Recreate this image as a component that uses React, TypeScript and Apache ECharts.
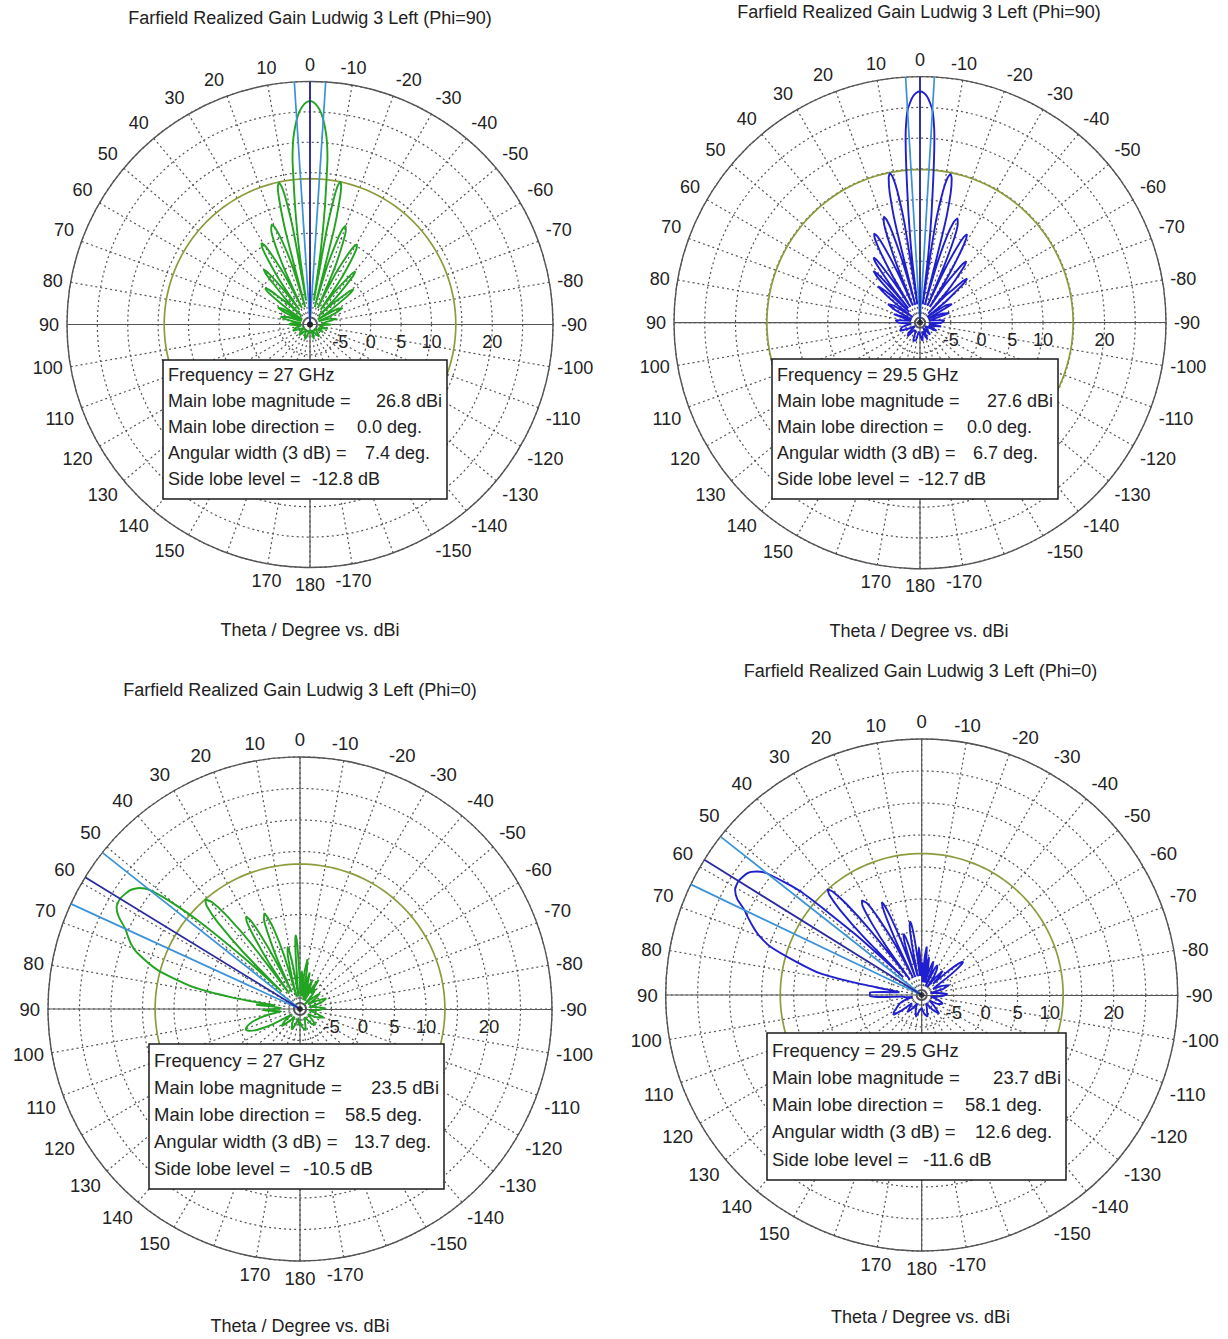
import React, { useEffect, useRef } from 'react';
import * as echarts from 'echarts';

// ---------- data ----------
const phiCuts = [90, 90, 0, 0];
const frequencies = ['27 GHz', '29.5 GHz', '27 GHz', '29.5 GHz'];
const mainLobeMag = [26.8, 27.6, 23.5, 23.7];
const mainLobeDir = [0.0, 0.0, 58.5, 58.1];
const angularWidth = [7.4, 6.7, 13.7, 12.6];
const sideLobeLevel = [-12.8, -12.7, -10.5, -11.6];

const radiusTickLabels = [-5, 0, 5, 10, 20];
const hiddenAngleLabels = [160, -160];
const R_MIN = -10;
const R_MAX = 30;

// [theta (deg), realized gain (dBi)]
const patternTL: [number, number][] = [
  [-180, -8.5], [-172, -9], [-165, -7.5], [-155, -9], [-148, -8], [-142, -7.5], [-135, -8.5], [-128, -9],
  [-120, -7.5], [-112, -8.5], [-104, -7], [-97, -8.5], [-90, -6.5], [-84, -8], [-78, -5.5], [-74, -6.5],
  [-70, -8.5], [-66, -5.5], [-63, -4], [-60, -5], [-57, -8.5], [-55.3, -6], [-53.6, -3.8], [-52.2, -1.5],
  [-51, -0.8], [-49.8, -1.5], [-48.6, -3.8], [-47, -5], [-45.5, -8], [-44, -4], [-42.7, -1.5], [-41.5, 0.8],
  [-40.5, 1.5], [-39.5, 0.8], [-38.3, -1.5], [-36.8, -4], [-35.6, -7], [-34.2, -1], [-32.8, 2.3],
  [-31.6, 4.6], [-30.4, 5.3], [-29.2, 4.6], [-28, 2.3], [-26.6, -1], [-25.2, -7], [-23.6, 0], [-22, 4.3],
  [-20.8, 6.6], [-19.8, 7.3], [-18.8, 6.6], [-17.8, 4.3], [-16.4, 0], [-15.2, -7], [-14.2, 6], [-13.4, 11],
  [-12.7, 13.3], [-12, 14], [-11.3, 13.3], [-10.7, 11], [-10, 6], [-9.2, -6], [-8.3, 2], [-7.3, 9],
  [-6.5, 14], [-6, 17.5], [-5.3, 20.2], [-4.6, 22], [-3.7, 23.8], [-3, 24.9], [-2, 25.9], [-1, 26.55],
  [0, 26.8], [1, 26.55], [2, 25.9], [3, 24.9], [3.7, 23.8], [4.6, 22], [5.3, 20.2], [6, 17.5], [6.5, 14],
  [7.3, 9], [8.3, 2], [9.2, -6], [10.1, 6], [10.9, 10.9], [11.6, 13.2], [12.4, 13.9], [13.2, 13.2],
  [13.9, 10.9], [14.7, 6], [15.5, -7], [16.8, 0], [18.5, 4.6], [19.8, 6.9], [21, 7.6], [22.2, 6.9],
  [23.5, 4.6], [24.8, 0], [26, -7], [27.2, -1], [28.6, 2.6], [29.7, 4.9], [30.8, 5.6], [31.9, 4.9],
  [33, 2.6], [34.4, -1], [35.6, -7], [36.8, -4], [38, -1.2], [39, 1.1], [40, 1.8], [41, 1.1], [42, -1.2],
  [43.5, -4], [45, -8], [46.5, -5], [48.2, -3.5], [49.6, -1.2], [51, -0.5], [52.4, -1.2], [53.8, -3.5],
  [55.5, -6], [57, -8.5], [60, -5], [62, -4], [64, -5], [68, -8.5], [72, -6], [75, -5], [78, -6],
  [82, -8.5], [86, -7], [90, -6.5], [94, -8], [98, -8.5], [104, -7.5], [110, -7], [116, -8.5], [122, -9],
  [128, -8], [135, -7.5], [141, -8.5], [148, -9], [155, -8], [162, -7.5], [168, -8.5], [174, -9],
  [180, -8.5],
];

const patternTR: [number, number][] = [
  [-180, -8], [-172, -7], [-164, -8.5], [-156, -7], [-148, -9], [-140, -7.5], [-132, -8.5], [-124, -9],
  [-116, -7], [-108, -8.5], [-100, -6.5], [-94, -8.5], [-90, -6.5], [-84, -6], [-77, -8.5], [-72, -5],
  [-68, -6], [-64, -8.5], [-60, -4], [-56, -5], [-52, -8.5], [-50.5, -4.5], [-49.1, -2.5], [-47.9, -0.2],
  [-46.9, 0.5], [-46, -0.2], [-44.8, -2.5], [-43.4, -4], [-42, -8], [-40.7, -3], [-39.3, -0.5],
  [-38, 1.8], [-37, 2.5], [-36, 1.8], [-34.8, -0.5], [-33.4, -3], [-32.2, -7], [-31.1, -1], [-29.8, 3.3],
  [-28.8, 5.6], [-27.9, 6.3], [-27, 5.6], [-26, 3.3], [-24.8, -1], [-23.8, -7], [-23, 0], [-22, 5],
  [-20.8, 7.3], [-19.7, 8], [-18.6, 7.3], [-17.4, 5], [-16.2, 0], [-15.1, -7], [-14.2, 6.5],
  [-13.3, 11.7], [-12.4, 14], [-11.6, 14.7], [-10.8, 14], [-9.9, 11.7], [-8.9, 6.5], [-8.1, -7], [-7, 1],
  [-6, 8], [-5.1, 15], [-4.4, 20.5], [-3.9, 22.8], [-3.35, 24.6], [-2.6, 25.8], [-1.8, 26.8],
  [-0.9, 27.4], [0, 27.6], [0.9, 27.4], [1.8, 26.8], [2.6, 25.8], [3.35, 24.6], [3.9, 22.8], [4.4, 20.5],
  [5.1, 15], [6, 8], [7, 1], [8.1, -7], [8.9, 6.5], [9.8, 11.8], [10.6, 14.1], [11.4, 14.8], [12.2, 14.1],
  [13.1, 11.8], [14, 6.5], [14.8, -7], [15.9, 0], [17, 5.2], [17.9, 7.5], [18.8, 8.2], [19.7, 7.5],
  [20.7, 5.2], [21.9, 0], [22.9, -7], [24, -1], [25.2, 3.3], [26.2, 5.6], [27.2, 6.3], [28.2, 5.6],
  [29.2, 3.3], [30.4, -1], [31.5, -7], [32.6, -3], [33.7, 0], [34.6, 2.3], [35.5, 3], [36.4, 2.3],
  [37.3, 0], [38.3, -3], [39.2, -7], [40, -3], [41, 0.3], [42, 1.3], [43, 0.3], [44, -3], [45, -7.5],
  [46.3, -5], [47.5, -2.5], [49, -1], [50.5, -2.5], [51.7, -5], [53, -8.5], [57, -5], [60, -4], [63, -5.5],
  [67, -8.5], [72, -5.5], [78, -8.5], [84, -6], [90, -6.5], [97, -8.5], [104, -7], [112, -6.5], [118, -8],
  [125, -9], [132, -7.5], [138, -7], [145, -8.5], [152, -8.5], [159, -7], [166, -7], [173, -8.5], [180, -8],
];

const patternBL: [number, number][] = [
  [-180, -8], [-172, -7], [-165, -6.5], [-157, -8], [-150, -8.5], [-142, -7], [-135, -6.5], [-128, -8],
  [-122, -8.5], [-116, -7], [-110, -6], [-104, -7.5], [-98, -8.5], [-93, -7], [-88, -6], [-83, -7.5],
  [-78, -8.5], [-73, -6.5], [-68, -5.5], [-64, -7], [-60, -8.5], [-56, -7], [-52, -6], [-48, -7.5],
  [-45, -9], [-41, -7], [-38, -6], [-35, -7], [-32.5, -4.5], [-30, -6], [-28, -8.5], [-25.5, -6.5],
  [-23, -5], [-21, -6.5], [-19, -8.5], [-17, -6], [-15, -4], [-13.5, -5.5], [-12, -8], [-10.2, -4],
  [-8.6, -2], [-7, -4], [-5.5, -8], [-4, -5], [-3, -4], [-2, -5], [-1, -7.5], [0, -6], [1, -6],
  [2, -1.5], [2.7, 1], [3.3, 1.7], [3.9, 1], [4.6, -1.5], [5.6, -6], [7, -8], [8.4, -5], [9.7, -2],
  [10.6, -0.6], [11.4, 0], [12.2, -0.6], [13.2, -2], [14.3, -5], [15.3, -8], [16.6, -1], [18, 3],
  [19.4, 5.4], [20.6, 6.2], [21.8, 5.4], [23, 3], [24.4, -1], [25.7, -7], [26.9, -1], [28.1, 3.5],
  [29.2, 6.2], [30.3, 7], [31.4, 6.2], [32.5, 3.5], [33.8, -1], [35, -7], [36.8, 3], [38.2, 9],
  [39.5, 12], [40.9, 13], [42.2, 12], [43.5, 9], [44.9, 3], [46.3, -6], [47.6, 2], [49, 11], [50.4, 17],
  [51.65, 20.5], [53, 21.9], [55, 22.9], [58.5, 23.5], [61, 23.3], [63, 22.3], [65.35, 20.5], [67, 19.7],
  [69, 18.7], [71, 17.3], [74.7, 13.4], [78.3, 7.5], [80.3, 1], [82, -6], [84.5, -3], [87, -7], [92, -4],
  [97, -7], [100, -5], [102.5, -3.5], [105, -2.2], [108, -1.2], [111, -0.8], [113.5, -1.3], [116, -2.5],
  [119, -5], [124, -8.5], [128, -7], [133, -6], [139, -7.5], [145, -8.5], [151, -7.5], [158, -6.5],
  [164, -7.5], [170, -8.5], [175, -7.5], [180, -8],
];

const patternBR: [number, number][] = [
  [-180, -8], [-172, -7], [-165, -6.5], [-157, -8], [-150, -8.5], [-143, -7], [-137, -6], [-131, -7.5],
  [-125, -8.5], [-118, -7], [-112, -6.5], [-106, -7.5], [-100, -8.5], [-94, -7], [-88, -6], [-83, -7.5],
  [-78, -8.5], [-74, -6.5], [-70, -5.5], [-66, -6.5], [-62, -8], [-58, -7], [-55.5, -5], [-53.5, -3],
  [-52.2, -2], [-51.3, -1.7], [-50.3, -2], [-49, -3], [-47.5, -5], [-46, -7.5], [-43.5, -6], [-41, -5],
  [-38.5, -6.5], [-36, -8.5], [-33.5, -6.5], [-31, -5.5], [-29, -5], [-27.5, -4.8], [-25.8, -6],
  [-24, -8.5], [-21.5, -5.5], [-19, -4.5], [-17, -6], [-15, -8], [-13, -5.5], [-11, -4], [-9.7, -5.5],
  [-8.5, -8], [-7.2, -4], [-5.9, -2.4], [-4.6, -4], [-3, -8], [-2, -6], [-1, -5], [0, -6], [1, -7],
  [2.3, -4], [3.5, -2.5], [4.6, -4], [5.5, -7], [6.5, -4], [7.4, -0.8], [8.2, 1], [9, 1.6], [9.8, 1],
  [10.6, -0.8], [11.4, -4], [12.2, -7], [13.4, -5], [14.6, -2], [15.6, -0.6], [16.5, 0], [17.4, -0.6],
  [18.3, -2], [19.1, -5], [19.9, -7], [20.8, -1], [21.7, 3], [22.5, 5.1], [23.2, 5.8], [23.9, 5.1],
  [24.7, 3], [25.6, -1], [26.5, -7], [27.8, -1], [29.3, 3.5], [30.8, 6.7], [32.3, 7.5], [33.6, 6.7],
  [34.9, 3.5], [36.2, -1], [37.4, -7], [38.5, 3], [39.6, 8.5], [40.7, 11.3], [41.7, 12.1], [42.7, 11.3],
  [43.8, 8.5], [45, 3], [46.2, -6], [47.6, 4], [49.5, 15], [51.8, 20.7], [53.2, 22.2], [55, 23.2],
  [58.1, 23.7], [60.5, 23.5], [62.5, 22.5], [64.4, 20.7], [66, 19.7], [68, 18.4], [70, 17], [72.3, 14.8],
  [75, 10.5], [78, 6.2], [79.5, 1], [81, -4.4], [83, -6.5], [85.5, -4], [87, -1.9], [91, -1.9], [93, -4],
  [95, -7], [98, -7.5], [102, -8.5], [106, -7.5], [110, -6.5], [114, -6], [118, -5.5], [121, -5],
  [125, -4.6], [127.5, -6], [130, -8], [135, -7.5], [140, -6.5], [146, -7.5], [152, -8.5], [158, -7.5],
  [165, -6.5], [172, -7.5], [180, -8],
];

const patterns = [patternTL, patternTR, patternBL, patternBR];
const patternColors = ['#22a322', '#1f1fcf', '#22a322', '#1f1fcf'];

// ---------- layout (positions / sizes only) ----------
const layouts = [
  { cx: 310, cy: 324.5, r: 243, tx: 310, ty: 18, sy: 630, bx: 163, by: 360, bw: 284, bh: 139, ly: 375, ldy: 26, fs: 18, vx: [0, 357, 365, 312] },
  { cx: 920, cy: 322.7, r: 246, tx: 919, ty: 12, sy: 631, bx: 772, by: 359, bw: 286, bh: 140, ly: 375, ldy: 26, fs: 18, vx: [0, 967, 973, 918] },
  { cx: 300, cy: 1009, r: 252, tx: 300, ty: 690, sy: 1326, bx: 149, by: 1044, bw: 295, bh: 145, ly: 1060, ldy: 27, fs: 18.5, vx: [0, 345, 354, 303] },
  { cx: 921.7, cy: 995, r: 256, tx: 920.5, ty: 671, sy: 1317, bx: 767, by: 1033, bw: 299, bh: 147, ly: 1050, ldy: 27.3, fs: 18.5, vx: [0, 965, 975, 923] },
];

const FONT = "'Liberation Sans', Arial, Helvetica, sans-serif";
const TEXT_COLOR = '#222';
const GRID_COLOR = '#555555';

const ang = (t: number) => (((t + 90) % 360) + 360) % 360;

function buildOption() {
  const polar: any[] = [];
  const angleAxis: any[] = [];
  const radiusAxis: any[] = [];
  const series: any[] = [];
  const graphic: any[] = [];
  const circleAngles = Array.from({ length: 181 }, (_, k) => k * 2);

  layouts.forEach((L, i) => {
    polar.push({ center: [L.cx, L.cy], radius: L.r });
    angleAxis.push({
      polarIndex: i,
      type: 'value',
      min: 0,
      max: 360,
      interval: 10,
      startAngle: 0,
      clockwise: false,
      axisLine: { show: true, lineStyle: { color: '#555', width: 1.4 } },
      axisTick: { show: false },
      axisLabel: {
        margin: 8,
        fontSize: L.fs,
        fontFamily: FONT,
        color: TEXT_COLOR,
        formatter: (v: number) => {
          let t = v - 90;
          if (t > 180) t -= 360;
          if (t <= -180) t += 360;
          if (hiddenAngleLabels.includes(t)) return '';
          return String(t);
        },
      },
      splitLine: { show: true, lineStyle: { color: GRID_COLOR, type: [2, 3], width: 1.2 } },
    });
    radiusAxis.push({
      polarIndex: i,
      type: 'value',
      min: R_MIN,
      max: R_MAX,
      interval: 5,
      axisLine: { show: true, lineStyle: { color: '#555', width: 1.2 } },
      axisTick: { show: false },
      axisLabel: {
        margin: -8,
        verticalAlign: 'top',
        align: 'center',
        fontSize: L.fs,
        fontFamily: FONT,
        color: TEXT_COLOR,
        formatter: (v: number) => (radiusTickLabels.includes(v) ? String(v) : ''),
      },
      splitLine: { show: true, lineStyle: { color: GRID_COLOR, type: [2, 3], width: 1.2 } },
    });

    // solid cross lines (vertical diameter + left half of horizontal)
    series.push({
      type: 'line', coordinateSystem: 'polar', polarIndex: i, silent: true, showSymbol: false, z: 1,
      lineStyle: { color: '#555', width: 1.2 },
      data: [[R_MAX, ang(0)], [R_MIN, ang(0)], [R_MAX, ang(180)]],
    });
    series.push({
      type: 'line', coordinateSystem: 'polar', polarIndex: i, silent: true, showSymbol: false, z: 1,
      lineStyle: { color: '#555', width: 1.2 },
      data: [[R_MAX, ang(90)], [R_MIN, ang(90)]],
    });

    // side lobe level circle
    const sllAbs = mainLobeMag[i] + sideLobeLevel[i];
    series.push({
      type: 'line', coordinateSystem: 'polar', polarIndex: i, silent: true, showSymbol: false, z: 2,
      lineStyle: { color: '#8c9b3c', width: 1.7 },
      data: circleAngles.map((a) => [sllAbs, a]),
    });

    // pattern
    series.push({
      type: 'line', coordinateSystem: 'polar', polarIndex: i, silent: true, showSymbol: false, z: 3,
      smooth: 0.2,
      lineStyle: { color: patternColors[i], width: 1.9 },
      data: patterns[i].map(([t, g]) => [g, ang(t)]),
    });

    // 3 dB lines
    const half = angularWidth[i] / 2;
    [mainLobeDir[i] - half, mainLobeDir[i] + half].forEach((d) => {
      series.push({
        type: 'line', coordinateSystem: 'polar', polarIndex: i, silent: true, showSymbol: false, z: 4,
        lineStyle: { color: '#3a92d8', width: 1.7 },
        data: [[R_MIN, ang(d)], [R_MAX, ang(d)]],
      });
    });
    // main lobe direction
    series.push({
      type: 'line', coordinateSystem: 'polar', polarIndex: i, silent: true, showSymbol: false, z: 5,
      lineStyle: { color: '#2b2b9e', width: 1.8 },
      data: [[R_MIN, ang(mainLobeDir[i])], [R_MAX, ang(mainLobeDir[i])]],
    });
    // dark origin spot
    series.push({
      type: 'scatter', coordinateSystem: 'polar', polarIndex: i, silent: true, z: 6,
      symbol: 'circle',
      symbolSize: 6,
      itemStyle: { color: '#1a1a1a', borderWidth: 0 },
      data: [[R_MIN, 0]],
    });

    const txt = (x: number, y: number, text: string, align: string, fs: number) => ({
      type: 'text',
      x,
      y,
      z: 101,
      style: {
        text,
        fill: TEXT_COLOR,
        font: `${fs}px ${FONT}`,
        fontSize: fs,
        fontFamily: FONT,
        align,
        verticalAlign: 'middle',
        textAlign: align,
        textVerticalAlign: 'middle',
      },
    });
    graphic.push(txt(L.tx, L.ty, `Farfield Realized Gain Ludwig 3 Left (Phi=${phiCuts[i]})`, 'center', 18));
    graphic.push(txt(L.tx, L.sy, 'Theta / Degree vs. dBi', 'center', 18));

    // info box
    graphic.push({
      type: 'rect',
      z: 100,
      shape: { x: L.bx, y: L.by, width: L.bw, height: L.bh },
      style: { fill: '#ffffff', stroke: '#1a1a1a', lineWidth: 1.5 },
    });
    const lx = L.bx + 5;
    const labels = [
      'Main lobe magnitude =',
      'Main lobe direction =',
      'Angular width (3 dB) =',
      'Side lobe level =',
    ];
    const values = [
      `${mainLobeMag[i].toFixed(1)} dBi`,
      `${mainLobeDir[i].toFixed(1)} deg.`,
      `${angularWidth[i].toFixed(1)} deg.`,
      `${sideLobeLevel[i].toFixed(1)} dB`,
    ];
    graphic.push(txt(lx, L.ly, `Frequency = ${frequencies[i]}`, 'left', L.fs));
    labels.forEach((lab, k) => {
      const y = L.ly + L.ldy * (k + 1);
      graphic.push(txt(lx, y, lab, 'left', L.fs));
      if (k === 0) {
        graphic.push(txt(L.bx + L.bw - 5, y, values[k], 'right', L.fs));
      } else {
        graphic.push(txt(L.vx[k], y, values[k], 'left', L.fs));
      }
    });
  });

  return {
    animation: false,
    backgroundColor: '#ffffff',
    polar,
    angleAxis,
    radiusAxis,
    series,
    graphic: { elements: graphic },
  };
}

export default function App() {
  const ref = useRef<HTMLDivElement | null>(null);
  useEffect(() => {
    if (!ref.current) return;
    const chart = echarts.init(ref.current, undefined, { renderer: 'svg' });
    chart.setOption(buildOption() as any);
    return () => chart.dispose();
  }, []);
  return (
    <div
      ref={ref}
      style={{ position: 'absolute', left: 0, top: 0, width: 1228, height: 1339, background: '#fff' }}
    />
  );
}
